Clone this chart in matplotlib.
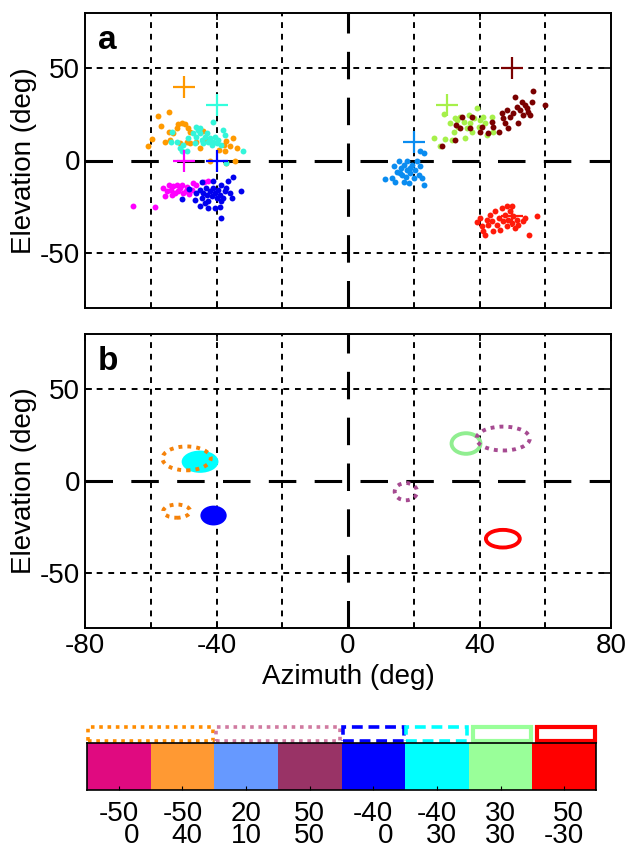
import matplotlib
matplotlib.use('Agg')
import matplotlib.pyplot as plt
from matplotlib.patches import Ellipse, Rectangle
import numpy as np

plt.rcParams['font.family'] = ['Liberation Sans', 'DejaVu Sans']
plt.rcParams['axes.unicode_minus'] = False

# ---------------- panel a data (azimuth, elevation in deg) ----------------
mag_az = [-65.5, -58.6, -56.2, -55.7, -54.6, -53.8, -53.1, -52.1, -51.1, -50.4, -49.1, -48.3,
          -47.1, -46.1, -50.1, -52.6, -53.6, -43.8, -42.5, -55.2, -51.6, -49.3, -47.6]
mag_el = [-24.5, -25.2, -14.9, -19.1, -13.5, -15.8, -14.0, -13.1, -14.9, -13.5, -14.6, -18.2,
          -12.2, -13.5, -17.6, -17.6, -18.9, -11.7, -11.0, -16.7, -16.7, -16.4, -15.8]

blu_az = [-45.1, -44.5, -44.0, -43.2, -43.0, -42.5, -42.0, -41.5, -41.0, -40.5, -40.0, -39.5,
          -39.0, -38.5, -38.0, -37.5, -37.0, -36.5, -36.0, -35.2, -35.0, -32.4, -38.5, -45.1,
          -42.5, -40.5, -39.0, -38.5, -41.0, -48.3, -44.5, -46.6, -50.4, -46.1, -43.5]
blu_el = [-15.8, -20.3, -17.6, -14.9, -18.5, -22.1, -16.7, -19.4, -14.9, -17.6, -20.3, -15.8,
          -18.5, -13.1, -20.3, -16.7, -14.9, -11.3, -17.6, -20.3, -9.2, -16.7, -31.1, -24.8,
          -25.7, -25.7, -25.4, -22.1, -11.0, -15.5, -11.7, -21.2, -20.7, -17.6, -23.0]

org_az = [-60.9, -59.7, -57.7, -54.6, -57.0, -54.6, -55.7, -54.1, -51.6, -50.6, -49.6, -48.6,
          -48.1, -48.1, -51.1, -48.9, -44.0, -42.8, -46.1, -45.1, -42.0, -39.2, -37.8, -36.0,
          -35.0, -33.9, -34.4, -37.0, -37.5, -37.0, -52.1, -53.3]
org_el = [8.1, 11.7, 24.3, 26.4, 18.9, 15.6, 10.3, 11.2, 19.6, 20.1, 19.8, 17.4,
          15.6, 9.4, 9.4, 9.9, 16.2, 11.2, 10.3, 6.7, -0.5, 5.8, 8.5, 7.6,
          12.1, 7.0, -0.2, -1.4, 4.9, 10.8, 17.4, 14.7]

cya_az = [-53.6, -53.9, -51.9, -51.1, -50.6, -50.1, -48.6, -47.1, -46.3, -45.6, -45.1, -46.1,
          -44.5, -44.0, -43.5, -43.0, -42.5, -42.0, -41.5, -41.0, -40.5, -40.0, -39.5, -41.0,
          -38.0, -37.5, -38.5, -37.2, -31.9, -45.1, -46.6, -48.9]
cya_el = [15.3, 10.3, 10.3, 6.7, 4.9, 8.5, 12.1, 14.7, 18.3, 16.5, 14.7, 12.9,
          11.2, 9.4, 12.9, 14.7, 10.3, 12.1, 8.5, 10.3, 12.9, 9.4, 11.2, 21.0,
          16.5, 13.8, 8.5, -1.4, 4.9, 17.4, 9.4, 5.2]

dbl_az = [11.4, 13.4, 13.9, 14.4, 14.9, 15.5, 16.0, 16.5, 17.0, 17.5, 18.0, 18.5, 19.0, 19.5,
          20.0, 20.5, 21.0, 21.5, 22.0, 22.5, 23.0, 22.0, 23.0, 17.0, 18.0, 15.8, 18.8]
dbl_el = [-10.1, -9.6, -3.2, -11.4, -6.0, -0.5, -4.2, -7.8, -2.3, -8.7, -5.1, -12.3, -6.9, -2.3,
          -9.6, -5.1, -0.5, -7.8, -3.2, -9.6, -13.2, 4.9, 4.0, -11.4, -0.5, -6.9, -3.8]

ygr_az = [26.1, 28.1, 29.1, 29.6, 31.1, 32.1, 32.6, 33.6, 34.1, 35.2, 35.7, 36.2, 36.7,
          37.2, 37.7, 38.2, 39.2, 39.7, 40.2, 41.2, 41.7, 42.2, 43.7, 44.2, 33.1, 31.6]
ygr_el = [12.1, 7.6, 25.3, 11.7, 20.2, 15.7, 22.9, 18.4, 23.8, 21.1, 12.1, 17.5, 24.7,
          20.2, 15.7, 22.9, 28.3, 18.4, 22.0, 23.8, 20.2, 13.9, 23.8, 15.7, 22.0, 11.2]

mar_az = [28.6, 32.6, 32.9, 34.1, 34.6, 37.2, 37.7, 40.2, 40.7, 42.7, 43.7, 44.2, 45.8, 46.8,
          47.3, 47.8, 48.3, 48.8, 49.3, 50.3, 50.8, 51.3, 51.8, 52.3, 52.8, 53.3, 53.8, 54.3,
          54.8, 55.4, 55.9, 56.2, 59.9]
mar_el = [7.9, 11.2, 19.3, 17.5, 23.8, 17.5, 23.8, 15.7, 18.4, 14.8, 21.1, 18.4, 15.7, 25.6,
          22.9, 20.2, 27.4, 17.5, 23.8, 25.6, 34.7, 29.2, 20.2, 27.4, 31.9, 24.7, 30.1, 28.3,
          26.5, 24.7, 31.9, 37.7, 30.1]

red_az = [39.2, 40.2, 40.7, 41.2, 41.7, 42.2, 42.7, 43.2, 43.7, 44.2, 44.7, 45.3, 45.8, 46.3,
          46.8, 47.3, 47.8, 48.3, 48.8, 49.3, 49.8, 50.3, 50.8, 51.3, 51.8, 53.3, 53.8, 55.2,
          57.6, 48.3, 49.8]
red_el = [-33.4, -31.2, -35.7, -38.4, -40.3, -32.1, -34.8, -29.4, -33.0, -38.4, -27.6, -34.8,
          -31.2, -37.5, -25.8, -33.0, -29.4, -35.7, -32.1, -27.6, -33.9, -30.3, -36.6, -32.1,
          -34.8, -33.0, -31.2, -40.3, -30.0, -24.9, -24.9]

# source positions (plus markers)
src_az = [-50, -50, -40, -40, 20, 30, 50, 50]
src_el = [0, 40, 30, 0, 10, 30, 50, -30]
src_colors = ['#FF00FF', '#FF9900', '#33FFDD', '#0000FF', '#0A8CF0', '#A6F04A', '#7A0000', '#FF1A0A']

# ---------------- panel b data: ellipses ----------------
ell_az = [-49.1, -45.0, -52.1, -40.9, 17.6, 35.9, 47.2, 47.1]
ell_el = [12.3, 10.5, -16.4, -18.8, -5.8, 20.4, 23.1, -31.4]
ell_w = [14.7, 11.2, 8.2, 8.0, 6.8, 8.8, 16.2, 10.3]
ell_h = [13.0, 12.1, 7.2, 10.8, 9.4, 11.2, 13.0, 9.6]
ell_kind = ['dot_org', 'fill_cyan', 'dot_org', 'fill_blue', 'dot_pink', 'solid_green', 'dot_pink', 'solid_red']

# ---------------- colour strip ----------------
seg_colors = ['#E00A80', '#FF9933', '#6699FF', '#993366', '#0000FF', '#00FFFF', '#99FF99', '#FF0000']
seg_az = ['-50', '-50', '20', '50', '-40', '-40', '30', '50']
seg_el = ['0', '40', '10', '50', '0', '30', '30', '-30']

W, H = 626, 850
fig = plt.figure(figsize=(W / 100, H / 100), dpi=100)

def fr(l, t, r, b):
    return [l / W, 1 - b / H, (r - l) / W, (b - t) / H]

axA = fig.add_axes(fr(85, 13, 611, 308))
axB = fig.add_axes(fr(85, 334, 611, 628))
axC = fig.add_axes(fr(87, 743, 596, 790))

FS = 20

def style(ax, xlabels):
    ax.set_xlim(-80, 80)
    ax.set_ylim(-80, 80)
    for v in [-60, -40, -20, 20, 40, 60]:
        ax.axvline(v, color='black', lw=1.4, ls=(0, (3, 3)), zorder=1)
    for v in [-50, 50]:
        ax.axhline(v, color='black', lw=1.4, ls=(0, (3, 3)), zorder=1)
    ax.axvline(0, color='black', lw=2.2, ls=(0, (9, 6)), zorder=1)
    ax.axhline(0, color='black', lw=2.2, ls=(0, (9, 6)), zorder=1)
    ax.set_xticks([-80, -40, 0, 40, 80])
    ax.set_yticks([-50, 0, 50])
    ax.tick_params(direction='in', length=5, width=1.2, top=True, right=True, labelsize=FS)
    if not xlabels:
        ax.set_xticklabels([])
    ax.set_ylabel('Elevation (deg)', fontsize=FS, labelpad=2)
    for s in ax.spines.values():
        s.set_linewidth(1.4)

style(axA, False)
style(axB, True)
axB.set_xlabel('Azimuth (deg)', fontsize=FS, labelpad=4)

ms = 18
axA.scatter(mag_az, mag_el, s=ms, color='#FF00FF', lw=0, zorder=3)
axA.scatter(blu_az, blu_el, s=ms, color='#0000EE', lw=0, zorder=3)
axA.scatter(org_az, org_el, s=ms, color='#FF9A00', lw=0, zorder=3)
axA.scatter(cya_az, cya_el, s=ms, color='#33F5DA', lw=0, zorder=3)
axA.scatter(dbl_az, dbl_el, s=ms, color='#0A8CF0', lw=0, zorder=3)
axA.scatter(ygr_az, ygr_el, s=ms, color='#A6F04A', lw=0, zorder=3)
axA.scatter(mar_az, mar_el, s=ms, color='#7A0000', lw=0, zorder=3)
axA.scatter(red_az, red_el, s=ms, color='#FF1A0A', lw=0, zorder=3)
for a, e, c in zip(src_az, src_el, src_colors):
    axA.plot(a, e, marker='+', ms=16, mew=1.6, color=c, zorder=4, ls='none')

axA.text(-76, 65, 'a', fontsize=24, fontweight='bold', ha='left', va='center')
axB.text(-76, 65, 'b', fontsize=24, fontweight='bold', ha='left', va='center')

dot = (0, (1, 1.3))
for a, e, w, h, k in zip(ell_az, ell_el, ell_w, ell_h, ell_kind):
    if k == 'dot_org':
        p = Ellipse((a, e), w, h, fill=False, ec='#F5820A', lw=2.8, ls=dot, zorder=5)
    elif k == 'dot_pink':
        p = Ellipse((a, e), w, h, fill=False, ec='#A64A91', lw=2.8, ls=dot, zorder=5)
    elif k == 'fill_cyan':
        p = Ellipse((a, e), w, h, fc='#00FFFF', ec='none', zorder=4)
    elif k == 'fill_blue':
        p = Ellipse((a, e), w, h, fc='#0000FF', ec='none', zorder=4)
    elif k == 'solid_green':
        p = Ellipse((a, e), w, h, fill=False, ec='#90EE90', lw=2.8, zorder=5)
    else:
        p = Ellipse((a, e), w, h, fill=False, ec='#FF0000', lw=2.8, zorder=5)
    axB.add_patch(p)

# colour strip
pos = np.arange(len(seg_colors))
axC.bar(pos, [1] * len(pos), width=1.0, color=seg_colors, align='center', lw=0)
axC.set_xlim(-0.5, len(pos) - 0.5)
axC.set_ylim(0, 1)
axC.set_yticks([])
axC.set_xticks(pos, labels=[f'{a}\n{e}' for a, e in zip(seg_az, seg_el)])
axC.tick_params(axis='x', direction='in', length=3, labelsize=20, pad=8)
for lbl in axC.get_xticklabels():
    lbl.set_multialignment('right')
    lbl.set_linespacing(0.78)
for s in axC.spines.values():
    s.set_linewidth(1.2)

# outline legend boxes above the strip
y0, y1 = 1.05, 1.33
boxes = [(-0.5, 1.5, '#FF8C00', dot, 2.6),
         (1.5, 3.5, '#D07AA0', dot, 2.6),
         (3.5, 4.5, '#0000FF', (0, (3, 1.6)), 2.6),
         (4.5, 5.5, '#00FFFF', (0, (3, 1.6)), 2.6),
         (5.55, 6.5, '#99FF99', '-', 3.0),
         (6.55, 7.5, '#FF0000', '-', 3.0)]
for xa, xb, c, ls, lw in boxes:
    r = Rectangle((xa + 0.02, y0), xb - xa - 0.04, y1 - y0, fill=False, ec=c, lw=lw, ls=ls,
                  clip_on=False, transform=axC.transData)
    axC.add_patch(r)

fig.savefig('out.png', dpi=100)
